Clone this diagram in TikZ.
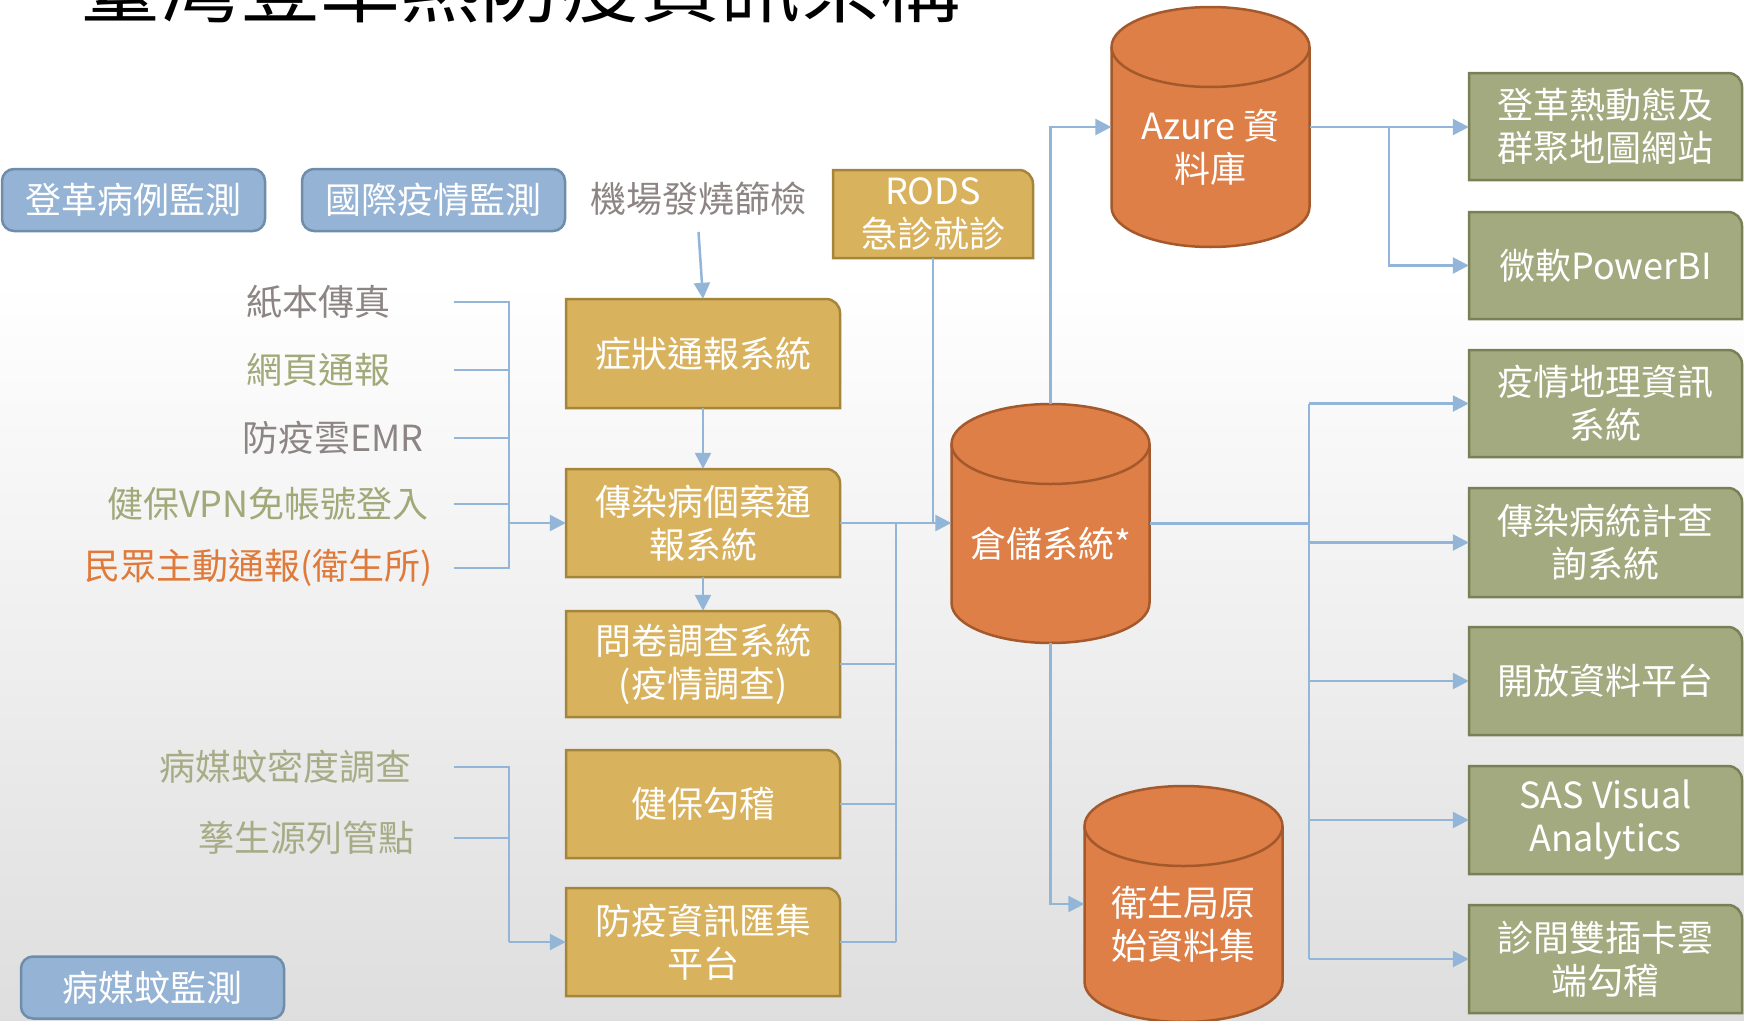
\documentclass[tikz,border=0pt]{standalone}
\usepackage{fontspec}
\setmainfont{Noto Sans CJK TC}
\usetikzlibrary{arrows.meta}
\definecolor{linec}{HTML}{93B5D7}
\definecolor{goldf}{HTML}{D9B25E}
\definecolor{goldd}{HTML}{A5853A}
\definecolor{greenf}{HTML}{A3AA7F}
\definecolor{greend}{HTML}{7A8056}
\definecolor{orangef}{HTML}{DD7F47}
\definecolor{oranged}{HTML}{A3592C}
\definecolor{bluef}{HTML}{95B3D4}
\definecolor{blued}{HTML}{6E8DAA}
\definecolor{lgray}{HTML}{8D8484}
\definecolor{lgreen}{HTML}{A1A979}
\definecolor{lolive}{HTML}{A7AC86}
\definecolor{lorange}{HTML}{E07A3A}
\definecolor{bgbot}{HTML}{DEDEDE}
\newcommand\fsz{\fontsize{36}{43}\selectfont}
\tikzset{
 conn/.style={draw=linec, line width=2.5pt},
 arr/.style={conn, -{Triangle[length=16pt,width=16pt]}},
 goldst/.style={fill=goldf, draw=goldd, line width=2.5pt},
 greenst/.style={fill=greenf, draw=greend, line width=2.5pt},
 cylst/.style={fill=orangef, draw=oranged, line width=2.5pt},
 bluebox/.style={fill=bluef, draw=blued, line width=2.5pt, rounded corners=12pt, text=white, font=\fsz, inner sep=0},
 boxtext/.style={text=white, align=center, font=\fsz, inner sep=0},
 lbl/.style={inner sep=0, font=\fsz},
}
% box with top-right corner rounded: style, name, x1, y1, x2, y2, text
\newcommand\tbox[7]{%
 \pgfmathsetmacro\tbW{#5-#3}\pgfmathsetmacro\tbH{#6-#4}%
 \pgfmathsetmacro\tbX{(#3+#5)/2}\pgfmathsetmacro\tbY{(#4+#6)/2}\pgfmathsetmacro\tbR{#5-14}%
 \filldraw[#1] (#3,#6) -- (#3,#4) -- (\tbR,#4) arc[start angle=-90,end angle=0,radius=14] -- (#5,#6) -- cycle;
 \node[boxtext, minimum width=\tbW pt, minimum height=\tbH pt] (#2) at (\tbX,\tbY) {#7};
}
% cylinder: name, cx, top, bottom, text
\newcommand\cyl[5]{%
 \pgfmathsetmacro\cyL{#2-99}\pgfmathsetmacro\cyR{#2+99}%
 \pgfmathsetmacro\cyT{#3+40}\pgfmathsetmacro\cyB{#4-40}%
 \pgfmathsetmacro\cyM{(#3+#4)/2}\pgfmathsetmacro\cyH{#4-#3}\pgfmathsetmacro\cyTx{(#3+40+#4)/2}%
 \filldraw[cylst] (\cyL,\cyT) -- (\cyL,\cyB) arc[start angle=180,end angle=0,x radius=99,y radius=40] -- (\cyR,\cyT) arc[start angle=0,end angle=-180,x radius=99,y radius=40] -- cycle;
 \draw[cylst,fill=none] (\cyL,\cyT) arc[start angle=180,end angle=0,x radius=99,y radius=40];
 \node[inner sep=0, minimum width=198pt, minimum height=\cyH pt] (#1) at (#2,\cyM) {};
 \node[boxtext] (#1-t) at (#2,\cyTx) {#5};
}
\begin{document}
\begin{tikzpicture}[x=1pt,y=-1pt]
\useasboundingbox (0,0) rectangle (1744,1020);
\clip (0,0) rectangle (1744,1020);
\fill[white] (0,0) rectangle (1744,1020);
\shade[top color=white, bottom color=bgbot] (0,280) rectangle (1744,1020);

% title
\node[anchor=base west, inner sep=0, font=\fontsize{80}{90}\selectfont] (title) at (80,16) {臺灣登革熱防疫資訊架構};

% blue boxes
\node[bluebox, minimum width=263pt, minimum height=62pt] (b1) at (133.5,200) {登革病例監測};
\node[bluebox, minimum width=263pt, minimum height=62pt] (b2) at (433.5,200) {國際疫情監測};
\node[bluebox, minimum width=263pt, minimum height=62pt] (b3) at (152.5,987.5) {病媒蚊監測};

% labels
\node[lbl, text=lgray] (air) at (698.5,199) {機場發燒篩檢};
\node[lbl, text=lgray, anchor=east] (paper) at (391,302) {紙本傳真};
\node[lbl, text=lgreen, anchor=east] (web) at (391,370) {網頁通報};
\node[lbl, text=lgray, anchor=east] (emr) at (424,438) {防疫雲EMR};
\node[lbl, text=lgreen, anchor=east] (vpn) at (429,504) {健保VPN免帳號登入};
\node[lbl, text=lorange, anchor=east] (pub) at (433,568) {民眾主動通報(衛生所)};
\node[lbl, text=lolive, anchor=east] (mosq) at (412,767) {病媒蚊密度調查};
\node[lbl, text=lolive, anchor=east] (breed) at (415,838) {孳生源列管點};

% gold boxes
\tbox{goldst}{sym}{566}{299}{840}{408}{症狀通報系統}
\tbox{goldst}{case}{566}{469}{840}{577}{傳染病個案通\\報系統}
\tbox{goldst}{q}{566}{611}{840}{717}{問卷調查系統\\(疫情調查)}
\tbox{goldst}{nhi}{566}{750}{840}{858}{健保勾稽}
\tbox{goldst}{plat}{566}{888}{840}{996}{防疫資訊匯集\\平台}
\tbox{goldst}{rods}{833}{170}{1033}{258}{RODS\\急診就診}

% green boxes
\tbox{greenst}{g1}{1469}{73}{1742}{180}{登革熱動態及\\群聚地圖網站}
\tbox{greenst}{g2}{1469}{212}{1742}{319}{微軟PowerBI}
\tbox{greenst}{g3}{1469}{350}{1742}{457}{疫情地理資訊\\系統}
\tbox{greenst}{g4}{1469}{488}{1742}{597}{傳染病統計查\\詢系統}
\tbox{greenst}{g5}{1469}{627}{1742}{735}{開放資料平台}
\tbox{greenst}{g6}{1469}{766}{1742}{874}{SAS Visual\\Analytics}
\tbox{greenst}{g7}{1469}{905}{1742}{1013}{診間雙插卡雲\\端勾稽}

% cylinders
\cyl{az}{1210.5}{7}{247}{Azure 資\\料庫}
\cyl{wh}{1050.5}{404}{643}{倉儲系統*}
\cyl{hb}{1183.5}{786}{1022}{衛生局原\\始資料集}

% bus coordinates
\coordinate (lstart) at (454,0);
\coordinate (lbus) at (509,0);
\coordinate (ybus) at (896,0);
\coordinate (abus) at (1389,0);
\coordinate (rbus) at (1309,0);

% connectors
\draw[arr] ([yshift=-16pt]air.south) -- (sym.north);
\draw[arr] (sym.south) -- (case.north);
\draw[arr] (case.south) -- (q.north);

\draw[conn] (paper.east -| lstart) -- (paper.east -| lbus) -- (pub.east -| lbus) -- (pub.east -| lstart);
\draw[conn] (web.east -| lstart) -- (web.east -| lbus);
\draw[conn] (emr.east -| lstart) -- (emr.east -| lbus);
\draw[conn] (vpn.east -| lstart) -- (vpn.east -| lbus);
\draw[arr] (case.west -| lbus) -- (case.west);

\draw[conn] (mosq.east -| lstart) -- (mosq.east -| lbus) -- (plat.west -| lbus);
\draw[conn] (breed.east -| lstart) -- (breed.east -| lbus);
\draw[arr] (plat.west -| lbus) -- (plat.west);

\draw[conn] (case.east -| ybus) -- (plat.east -| ybus);
\draw[conn] (q.east) -- (q.east -| ybus);
\draw[conn] (nhi.east) -- (nhi.east -| ybus);
\draw[conn] (plat.east) -- (plat.east -| ybus);
\draw[conn] (rods.south) -- (rods.south |- case.east);
\draw[arr] (case.east) -- (case.east -| wh.west);

\draw[arr] (wh.north) |- (az.west);
\draw[arr] (wh.south) |- (hb.west);

\draw[arr] (az.east) -- (az.east -| g1.west);
\draw[arr] (az.east -| abus) |- (g2.west);

\draw[conn] (wh.east) -- (wh.east -| rbus);
\draw[conn] (g3.west -| rbus) -- (g7.west -| rbus);
\draw[arr] (g3.west -| rbus) -- (g3.west);
\draw[arr] (g4.west -| rbus) -- (g4.west);
\draw[arr] (g5.west -| rbus) -- (g5.west);
\draw[arr] (g6.west -| rbus) -- (g6.west);
\draw[arr] (g7.west -| rbus) -- (g7.west);
\end{tikzpicture}
\end{document}
